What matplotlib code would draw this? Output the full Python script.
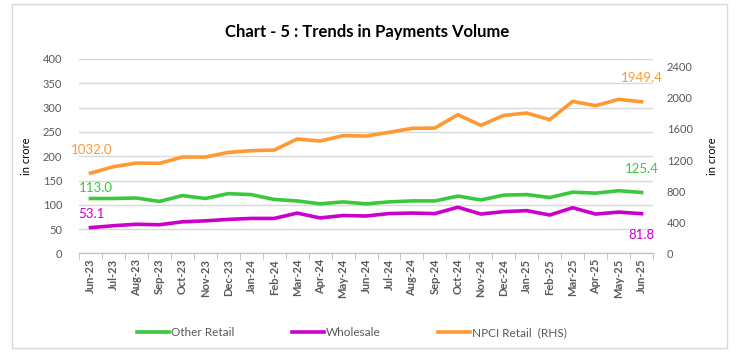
import matplotlib.pyplot as plt
from matplotlib.patches import Rectangle

plt.rcParams['font.family'] = ['Lato', 'DejaVu Sans']

months = ['Jun-23', 'Jul-23', 'Aug-23', 'Sep-23', 'Oct-23', 'Nov-23', 'Dec-23',
          'Jan-24', 'Feb-24', 'Mar-24', 'Apr-24', 'May-24', 'Jun-24', 'Jul-24',
          'Aug-24', 'Sep-24', 'Oct-24', 'Nov-24', 'Dec-24', 'Jan-25', 'Feb-25',
          'Mar-25', 'Apr-25', 'May-25', 'Jun-25']
other_retail = [113.0, 113, 114, 107, 119, 113, 123, 121, 111, 108, 102, 106, 102,
                106, 108, 108, 118, 110, 120, 121, 115, 126, 124, 129, 125.4]
wholesale = [53.1, 57, 60, 59, 65, 67, 70, 72, 72, 83, 73, 78, 77,
             82, 83, 82, 95, 81, 86, 88, 79, 94, 81, 85, 81.8]
npci_retail = [1032.0, 1115, 1162, 1158, 1239, 1239, 1299, 1321, 1329, 1471, 1445,
               1514, 1509, 1557, 1608, 1612, 1784, 1647, 1775, 1805, 1720, 1955,
               1900, 1981, 1949.4]

green = '#3CC83C'
magenta = '#CC00CC'
orange = '#FF9933'
grey = '#595959'

fig = plt.figure(figsize=(7.35, 3.61), dpi=100)
fig.patches.append(Rectangle((12 / 735, 13 / 361), 715 / 735, 344 / 361,
                             transform=fig.transFigure, fill=False,
                             edgecolor='#D9D9D9', linewidth=1))

ax = fig.add_axes([0.1075, 0.298, 0.781, 0.5386])
ax2 = ax.twinx()

x = range(len(months))
l1, = ax.plot(x, other_retail, color=green, lw=2.6, label='Other Retail')
l2, = ax.plot(x, wholesale, color=magenta, lw=2.6, label='Wholesale')
l3, = ax2.plot(x, npci_retail, color=orange, lw=2.6, label='NPCI Retail  (RHS)')

ax.set_ylim(0, 400)
ax.set_yticks(range(0, 401, 50))
ax2.set_ylim(0, 2500)
ax2.set_yticks(range(0, 2401, 400))
ax.set_xlim(-0.5, len(months) - 0.5)
ax.set_xticks(list(x))
ax.set_xticklabels(months, rotation=90, fontsize=8, color=grey, fontweight='bold')
ax.set_xticks([i - 0.5 for i in range(len(months) + 1)], minor=True)
ax.tick_params(axis='x', which='major', length=0, pad=4)
ax.tick_params(axis='x', which='minor', length=5, color='#BFBFBF')

ax.grid(axis='y', color='#D9D9D9', lw=1)
ax.set_axisbelow(True)
for a in (ax, ax2):
    for s in ('top', 'left', 'right'):
        a.spines[s].set_visible(False)
    a.spines['bottom'].set_color('#BFBFBF')
ax.tick_params(axis='y', length=0, labelsize=8, labelcolor=grey, pad=12)
ax2.tick_params(axis='y', length=0, labelsize=8, labelcolor=grey, pad=10)

ax.set_ylabel('in crore', fontsize=8, labelpad=8)
ax2.set_ylabel('in crore', fontsize=8, labelpad=10)

# data labels at first and last points
ax2.annotate('1032.0', (0, npci_retail[0]), xytext=(1, 14), textcoords='offset points',
             ha='center', color=orange, fontsize=9.5)
ax.annotate('113.0', (0, other_retail[0]), xytext=(4, 5), textcoords='offset points',
            ha='center', color=green, fontsize=9.5)
ax.annotate('53.1', (0, wholesale[0]), xytext=(1, 7), textcoords='offset points',
            ha='center', color=magenta, fontsize=9.5)
ax2.annotate('1949.4', (24, npci_retail[-1]), xytext=(0, 14), textcoords='offset points',
             ha='center', color=orange, fontsize=9.5)
ax.annotate('125.4', (24, other_retail[-1]), xytext=(0, 14), textcoords='offset points',
            ha='center', color=green, fontsize=9.5)
ax.annotate('81.8', (24, wholesale[-1]), xytext=(0, -18), textcoords='offset points',
            ha='center', color=magenta, fontsize=9.5)

fig.text(0.5, 0.912, 'Chart - 5 : Trends in Payments Volume', ha='center',
         va='center', fontsize=12, fontweight='bold')

leg = fig.legend(handles=[l1, l2, l3], loc='center left',
                 bbox_to_anchor=(137 / 735, 1 - 333 / 361), ncol=3,
                 frameon=False, fontsize=8.5, handlelength=2.7, handletextpad=0.2,
                 columnspacing=4.85, borderpad=0, borderaxespad=0)
for t in leg.get_texts():
    t.set_color(grey)

fig.savefig('out.png', dpi=100)
